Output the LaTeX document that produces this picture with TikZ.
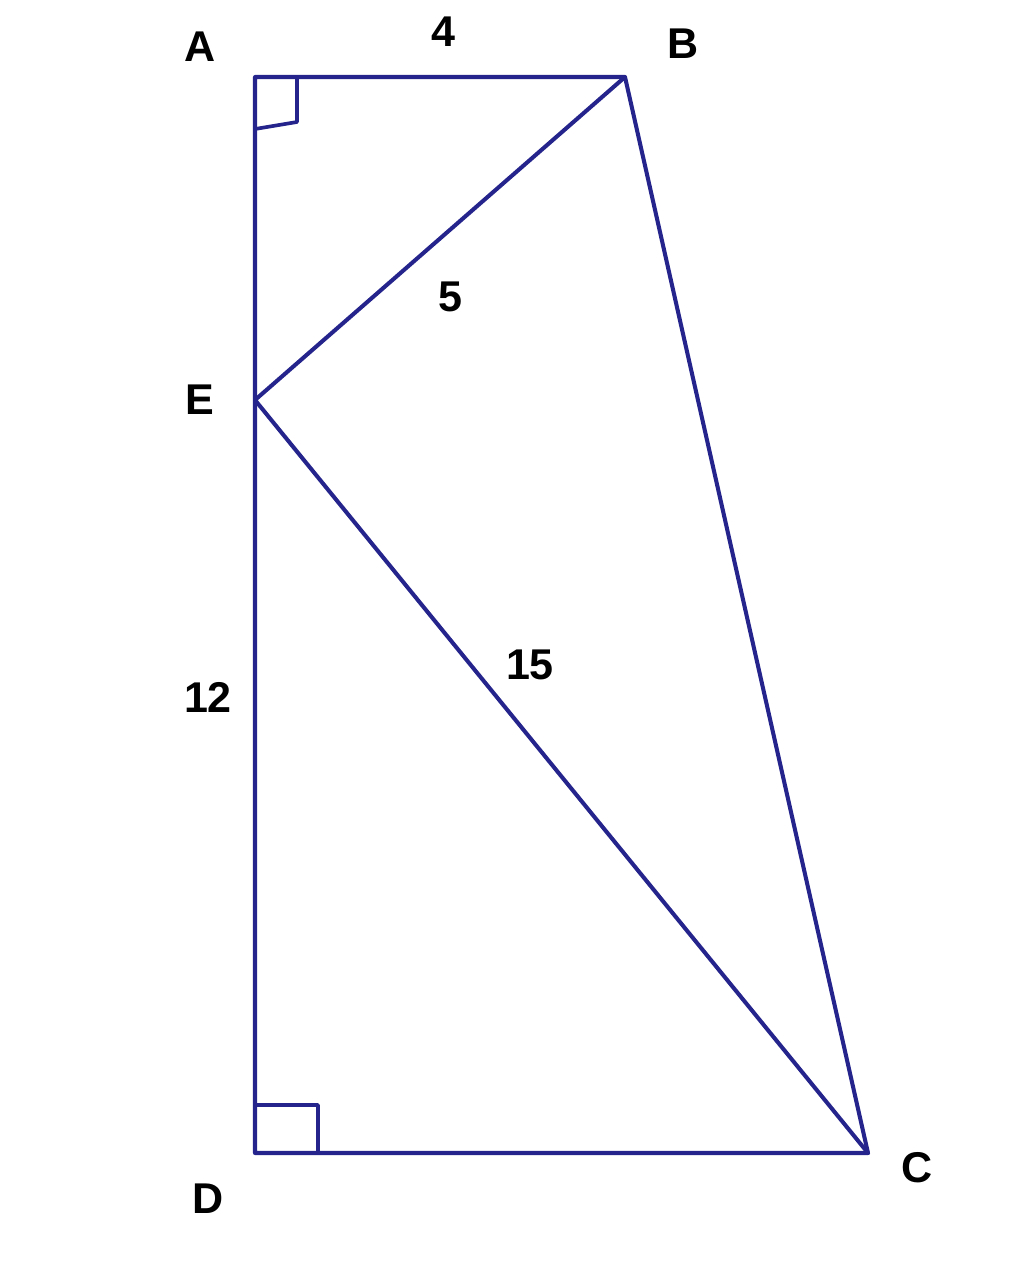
\documentclass[tikz,border=0pt]{standalone}
\usepackage{fontspec}
\setmainfont{Liberation Sans}
\definecolor{geoblue}{RGB}{36,36,140}
\begin{document}
\begin{tikzpicture}[x=0.02cm,y=-0.02cm,
  edge/.style={draw=geoblue,line width=2.3pt,line join=round,line cap=round},
  ramark/.style={draw=geoblue,line width=2.1pt,line join=round},
  lab/.style={font=\fontsize{24.5}{28}\selectfont\bfseries,text=black,inner sep=0pt}]
\useasboundingbox (0,0) rectangle (1024,1278);
\coordinate (A) at (255,77);
\coordinate (B) at (625,77);
\coordinate (E) at (255,400);
\coordinate (D) at (255,1153);
\coordinate (C) at (868,1153);
\draw[edge] (A) -- (B) -- (C) -- (D) -- cycle;
\draw[edge] (B) -- (E) -- (C);
\coordinate (a1) at (297,77);
\coordinate (a2) at (297,122);
\coordinate (a3) at (255,129);
\draw[ramark] (a1) -- (a2) -- (a3);
\coordinate (d1) at (255,1105);
\coordinate (d2) at (318,1105);
\coordinate (d3) at (318,1153);
\draw[ramark] (d1) -- (d2) -- (d3);
\node[lab] (lA) at (200,47) {A};
\node[lab] (lB) at (683,44) {B};
\node[lab] (lE) at (200,400) {E};
\node[lab] (lD) at (208,1199) {D};
\node[lab] (lC) at (917,1168) {C};
\node[lab] (l4) at (443,32) {4};
\node[lab] (l5) at (450,297) {5};
\node[lab] (l15) at (530,665) {15};
\node[lab] (l12) at (208,697) {12};
\end{tikzpicture}
\end{document}
